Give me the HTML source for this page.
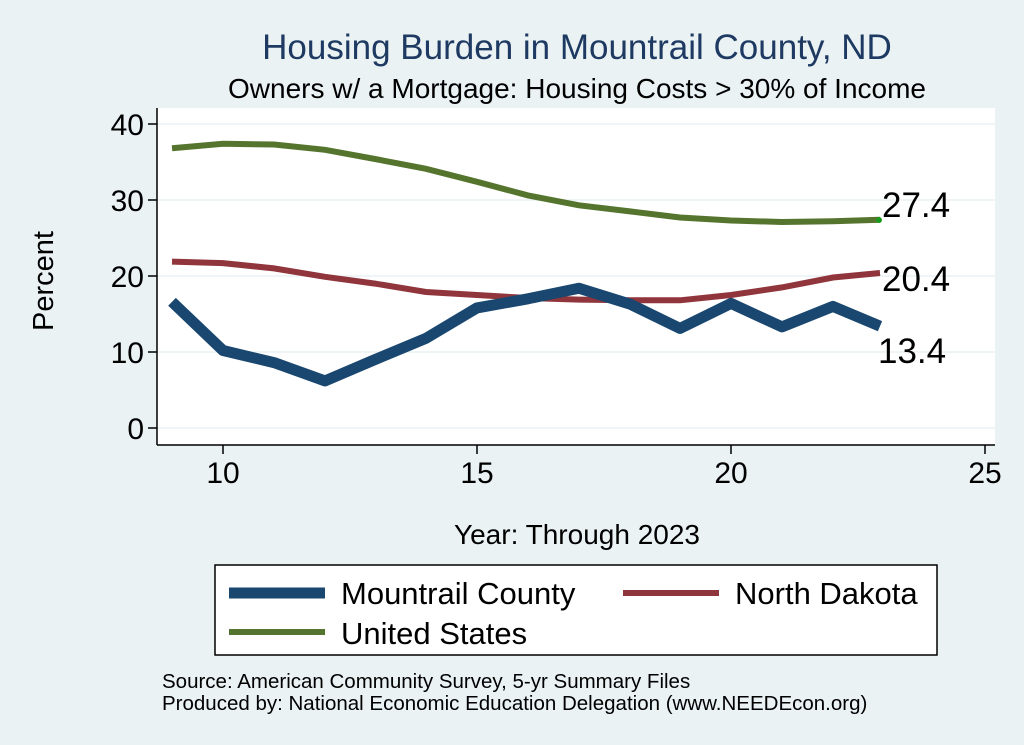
<!DOCTYPE html>
<html><head><meta charset="utf-8"><style>
html,body{margin:0;padding:0;background:#eaf2f3;}
svg{display:block;font-family:"Liberation Sans",Arial,sans-serif;}
</style></head><body>
<svg width="1024" height="745" viewBox="0 0 1024 745">
<rect width="1024" height="745" fill="#eaf2f3"/>
<text x="577" y="59" text-anchor="middle" font-size="35" fill="#1e3a62">Housing Burden in Mountrail County, ND</text>
<text x="577" y="98" text-anchor="middle" font-size="28" fill="#000">Owners w/ a Mortgage: Housing Costs &gt; 30% of Income</text>
<rect x="157" y="108" width="838" height="337" fill="#fff"/>
<g stroke="#eaf2f3" stroke-width="1.5">
<line x1="157" x2="995" y1="428" y2="428"/><line x1="157" x2="995" y1="352" y2="352"/><line x1="157" x2="995" y1="276" y2="276"/><line x1="157" x2="995" y1="200" y2="200"/><line x1="157" x2="995" y1="124" y2="124"/>
</g>
<g stroke="#000" stroke-width="1.5">
<line x1="157" y1="108" x2="157" y2="445"/>
<line x1="157" y1="445" x2="995" y2="445"/>
<line x1="148" x2="157" y1="428" y2="428"/><line x1="148" x2="157" y1="352" y2="352"/><line x1="148" x2="157" y1="276" y2="276"/><line x1="148" x2="157" y1="200" y2="200"/><line x1="148" x2="157" y1="124" y2="124"/>
<line x1="223" x2="223" y1="445" y2="454"/><line x1="477" x2="477" y1="445" y2="454"/><line x1="731" x2="731" y1="445" y2="454"/><line x1="985" x2="985" y1="445" y2="454"/>
</g>
<g font-size="30" fill="#000" text-anchor="end">
<text x="144" y="439">0</text><text x="144" y="363">10</text><text x="144" y="287">20</text><text x="144" y="211">30</text><text x="144" y="135">40</text>
</g>
<g font-size="30" fill="#000" text-anchor="middle">
<text x="223" y="483">10</text><text x="477" y="483">15</text><text x="731" y="483">20</text><text x="985" y="483">25</text>
</g>
<text transform="translate(53,281) rotate(-90)" text-anchor="middle" font-size="29">Percent</text>
<text x="577" y="544" text-anchor="middle" font-size="28">Year: Through 2023</text>
<polyline fill="none" stroke="#55752f" stroke-width="6" points="172,148.3 223,143.8 274,144.5 325,149.8 375,159 426,168.8 477,181.8 528,195.4 579,205.3 630,211.4 680,217.5 731,220.5 782,222 833,221.3 880,219.8"/>
<polyline fill="none" stroke="#90353b" stroke-width="6" points="172,261.6 223,263.1 274,268.4 325,276.8 375,283.6 426,292 477,295 528,298 579,299.6 630,300.3 680,300.3 731,295 782,287.4 833,277.5 880,273"/>
<polyline fill="none" stroke="#1a476f" stroke-width="11" stroke-linejoin="round" points="172,301.8 223,350.5 274,362.6 325,380.9 375,359.6 426,338.3 477,307.9 528,298.8 579,288.2 630,304.1 680,328.4 731,303.4 782,326.9 833,306.4 880,326.2"/>
<circle cx="879" cy="220" r="3" fill="#1a9a1a"/>
<g font-size="35" fill="#000">
<text x="882" y="217">27.4</text><text x="882" y="291">20.4</text><text x="878" y="363">13.4</text>
</g>
<rect x="215" y="565" width="722" height="90" fill="#fff" stroke="#000" stroke-width="1.5"/>
<line x1="229" x2="325" y1="593" y2="593" stroke="#1a476f" stroke-width="11"/>
<line x1="623" x2="719" y1="593" y2="593" stroke="#90353b" stroke-width="6"/>
<line x1="229" x2="325" y1="632" y2="632" stroke="#55752f" stroke-width="6"/>
<g font-size="31" fill="#000">
<text x="341" y="604">Mountrail County</text><text x="735" y="604">North Dakota</text><text x="341" y="644">United States</text>
</g>
<g font-size="20.5" fill="#000">
<text x="162" y="688">Source: American Community Survey, 5-yr Summary Files</text>
<text x="162" y="710">Produced by: National Economic Education Delegation (www.NEEDEcon.org)</text>
</g>
</svg>
</body></html>
